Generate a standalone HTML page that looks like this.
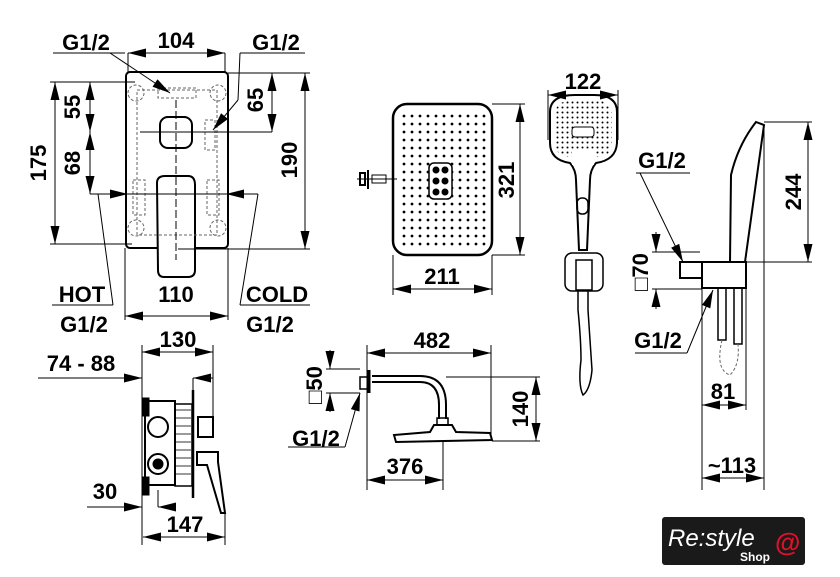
<!DOCTYPE html>
<html><head><meta charset="utf-8"><style>
body{margin:0;background:#fff;}
svg{display:block;}
text{font-family:"Liberation Sans",Arial,sans-serif;font-weight:bold;font-size:22px;fill:#000;}
</style></head><body>
<svg width="840" height="577" viewBox="0 0 840 577" xmlns="http://www.w3.org/2000/svg">
<defs>
<marker id="a" viewBox="0 0 20 10" refX="20" refY="5" markerWidth="20" markerHeight="9" markerUnits="userSpaceOnUse" orient="auto-start-reverse"><path d="M0,0 L20,5 L0,10 z" fill="#000"/></marker>
<pattern id="dots" width="8" height="8" patternUnits="userSpaceOnUse"><circle cx="4" cy="4" r="1.4" fill="#000"/></pattern>
<pattern id="dots2" width="5" height="5" patternUnits="userSpaceOnUse"><circle cx="2.5" cy="2.5" r="1" fill="#000"/></pattern>
</defs>
<g stroke="#000" stroke-width="1" fill="none">
<!-- MIXER FRONT -->
<rect x="126" y="72" width="102" height="176" rx="4" stroke-width="2"/>
<rect x="160" y="117" width="32" height="31" rx="8" stroke-width="2"/>
<path d="M157,183 Q157,176 165,176 L188,176 Q195,176 195,185 L195,270 Q195,277 188,277 L164,277 Q158,277 158,270 Z" fill="#fff" stroke-width="2"/>
<g stroke="#666" stroke-dasharray="3,2">
<rect x="137" y="90" width="80" height="145"/>
<rect x="158" y="88" width="38" height="10"/>
<rect x="205" y="120" width="10" height="30"/>
<rect x="133" y="180" width="12" height="35"/>
<rect x="207" y="180" width="12" height="35"/>
<circle cx="136" cy="93" r="8"/><circle cx="218" cy="93" r="8"/>
<circle cx="136" cy="228" r="8"/><circle cx="218" cy="228" r="8"/>
</g>
<line x1="176" y1="100" x2="176" y2="260" stroke-dasharray="8,3"/>
<line x1="140" y1="132" x2="272" y2="132"/>
<!-- dims -->
<line x1="53" y1="53" x2="125" y2="53"/><line x1="240" y1="53" x2="305" y2="53"/>
<line x1="128" y1="53" x2="225" y2="53" marker-start="url(#a)" marker-end="url(#a)"/>
<line x1="128" y1="53" x2="128" y2="72"/><line x1="225" y1="53" x2="225" y2="72"/>
<line x1="110" y1="53" x2="170" y2="93" marker-end="url(#a)"/>
<line x1="240" y1="53" x2="238" y2="100"/><line x1="238" y1="100" x2="213" y2="130" marker-end="url(#a)"/>
<line x1="50" y1="82" x2="135" y2="82"/><line x1="50" y1="244" x2="132" y2="244"/>
<line x1="55" y1="82" x2="55" y2="244" marker-start="url(#a)" marker-end="url(#a)"/>
<line x1="90" y1="82" x2="90" y2="132" marker-start="url(#a)" marker-end="url(#a)"/>
<line x1="90" y1="132" x2="90" y2="194" marker-start="url(#a)" marker-end="url(#a)"/>
<line x1="90" y1="194" x2="258" y2="194"/>
<line x1="98" y1="194" x2="128" y2="194" marker-end="url(#a)"/>
<line x1="248" y1="194" x2="226" y2="194" marker-end="url(#a)"/>
<line x1="228" y1="73" x2="310" y2="73"/><line x1="178" y1="249" x2="310" y2="249"/>
<line x1="272" y1="73" x2="272" y2="132" marker-start="url(#a)" marker-end="url(#a)"/>
<line x1="305" y1="73" x2="305" y2="249" marker-start="url(#a)" marker-end="url(#a)"/>
<line x1="98" y1="194" x2="113" y2="305"/><line x1="258" y1="194" x2="240" y2="305"/>
<line x1="52" y1="305" x2="113" y2="305"/><line x1="240" y1="305" x2="310" y2="305"/>
<line x1="125" y1="248" x2="125" y2="320"/><line x1="228" y1="248" x2="228" y2="320"/>
<line x1="125" y1="316" x2="228" y2="316" marker-start="url(#a)" marker-end="url(#a)"/>
<!-- BOX SIDE -->
<rect x="145" y="401" width="30" height="84" stroke-width="2"/>
<rect x="143" y="398" width="6" height="18" fill="#000"/>
<rect x="143" y="477" width="6" height="18" fill="#000"/>
<rect x="175" y="404" width="17" height="82" stroke-width="1.5"/>
<g stroke-width="0.8"><line x1="176" y1="410" x2="191" y2="410"/><line x1="176" y1="418" x2="191" y2="418"/><line x1="176" y1="426" x2="191" y2="426"/><line x1="176" y1="434" x2="191" y2="434"/><line x1="176" y1="442" x2="191" y2="442"/><line x1="176" y1="450" x2="191" y2="450"/><line x1="176" y1="458" x2="191" y2="458"/><line x1="176" y1="466" x2="191" y2="466"/><line x1="176" y1="474" x2="191" y2="474"/></g>
<circle cx="158" cy="427" r="10" stroke-width="2"/>
<circle cx="158" cy="464" r="10" stroke-width="2"/><circle cx="158" cy="464" r="5" fill="#000"/>
<line x1="193" y1="390" x2="193" y2="498" stroke-width="2.5"/>
<rect x="198" y="417" width="15" height="20" stroke-width="2"/>
<path d="M197,452 L218,452 L218,462 L225,513 L221,513 L207,465 L197,465 Z" stroke-width="2"/>
<line x1="142" y1="352" x2="213" y2="352" marker-start="url(#a)" marker-end="url(#a)"/>
<line x1="142" y1="345" x2="142" y2="545"/><line x1="213" y1="345" x2="213" y2="417"/>
<line x1="38" y1="378" x2="142" y2="378" marker-end="url(#a)"/>
<line x1="213" y1="378" x2="193" y2="378" marker-end="url(#a)"/><line x1="193" y1="378" x2="193" y2="390"/>
<line x1="87" y1="507" x2="142" y2="507" marker-end="url(#a)"/>
<line x1="176" y1="507" x2="158" y2="507" marker-end="url(#a)"/><line x1="158" y1="490" x2="158" y2="507"/>
<line x1="225" y1="513" x2="225" y2="545"/>
<line x1="143" y1="537" x2="225" y2="537" marker-start="url(#a)" marker-end="url(#a)"/>
<!-- RAIN TOP -->
<rect x="393" y="104" width="99" height="151" rx="14" stroke-width="2.5"/>
<rect x="399" y="110" width="87" height="139" rx="8" fill="url(#dots)" stroke="none"/>
<rect x="429" y="163" width="23" height="36" rx="5" fill="#fff" stroke-width="1.5"/>
<circle cx="436" cy="170" r="3" fill="#000"/><circle cx="445" cy="170" r="3" fill="#000"/>
<circle cx="436" cy="181" r="3" fill="#000"/><circle cx="445" cy="181" r="3" fill="#000"/>
<circle cx="436" cy="192" r="3" fill="#000"/><circle cx="445" cy="192" r="3" fill="#000"/>
<line x1="357" y1="179" x2="397" y2="179"/><rect x="360" y="173" width="5" height="12" stroke-width="2"/>
<line x1="368" y1="170" x2="368" y2="189" stroke-width="2"/><rect x="372" y="175" width="14" height="8"/>
<line x1="492" y1="104" x2="525" y2="104"/><line x1="492" y1="255" x2="525" y2="255"/>
<line x1="520" y1="104" x2="520" y2="255" marker-start="url(#a)" marker-end="url(#a)"/>
<line x1="393" y1="255" x2="393" y2="295"/><line x1="492" y1="255" x2="492" y2="295"/>
<line x1="393" y1="289" x2="492" y2="289" marker-start="url(#a)" marker-end="url(#a)"/>
<!-- OVERHEAD -->
<rect x="360" y="377" width="8" height="12" stroke-width="1.5"/>
<line x1="369" y1="370" x2="369" y2="393" stroke-width="3"/>
<path d="M372,376 L420,376 Q446,376 446,405 L446,419" stroke-width="2"/>
<path d="M372,382 L420,382 Q439,382 439,405 L439,419" stroke-width="2"/>
<rect x="437" y="418" width="11" height="7" stroke-width="1.5"/>
<path d="M434,425 L452,425 L456,432 L490,433 L492,440 L396,442 L394,435 L430,432 Z" stroke-width="2"/>
<line x1="367" y1="345" x2="367" y2="490"/><line x1="491" y1="345" x2="491" y2="440"/>
<line x1="367" y1="353" x2="491" y2="353" marker-start="url(#a)" marker-end="url(#a)"/>
<line x1="446" y1="377" x2="540" y2="377"/><line x1="492" y1="441" x2="540" y2="441"/>
<line x1="536" y1="377" x2="536" y2="441" marker-start="url(#a)" marker-end="url(#a)"/>
<line x1="443" y1="442" x2="443" y2="490"/>
<line x1="367" y1="480" x2="443" y2="480" marker-start="url(#a)" marker-end="url(#a)"/>
<line x1="326" y1="369" x2="360" y2="369"/><line x1="326" y1="393" x2="360" y2="393"/>
<line x1="330" y1="350" x2="330" y2="369" marker-end="url(#a)"/>
<line x1="330" y1="412" x2="330" y2="393" marker-end="url(#a)"/>
<line x1="288" y1="447" x2="345" y2="447"/><line x1="345" y1="447" x2="360" y2="393" marker-end="url(#a)"/>
<!-- HAND SHOWER -->
<line x1="548" y1="90" x2="548" y2="140"/><line x1="618" y1="90" x2="618" y2="140"/>
<line x1="548" y1="95" x2="618" y2="95" marker-start="url(#a)" marker-end="url(#a)"/>
<path d="M550,112 Q550,95 575,95 L594,95 Q617,95 617,112 L617,143 Q616,160 596,163 Q590,170 590,180 L587,250 L579,250 L576,180 Q576,170 570,163 Q550,160 550,143 Z" stroke-width="2"/>
<rect x="555" y="101" width="57" height="56" rx="13" fill="url(#dots2)" stroke="none"/>
<rect x="572" y="150" width="22" height="15" fill="#fff" stroke="none"/>
<rect x="572" y="127" width="22" height="10" rx="3" fill="#fff" stroke="#000"/>
<rect x="577" y="198" width="11" height="16" rx="5" stroke-width="1.5"/>
<rect x="565" y="253" width="38" height="38" rx="7" stroke-width="1.5"/>
<rect x="576" y="260" width="16" height="30" stroke-width="1.5"/>
<path d="M578,290 L578,310 Q581,340 581,360 Q578,385 583,395 Q590,390 592,370 Q590,340 588,310 L588,290" stroke-width="1.5"/>
<!-- WALL OUTLET -->
<path d="M756,122 L764,125 L745,262 L730,262 L731,175 Q738,145 756,122 Z" stroke-width="2"/>
<rect x="680" y="262" width="22" height="16" stroke-width="2"/>
<rect x="702" y="262" width="44" height="26" stroke-width="2"/>
<rect x="718" y="288" width="8" height="52" stroke-width="1.5"/>
<rect x="734" y="288" width="8" height="56" stroke-width="1.5"/>
<path d="M722,340 Q715,370 730,375 Q740,365 738,344" stroke-dasharray="3,2" stroke="#666"/>
<line x1="764" y1="122" x2="812" y2="122"/><line x1="746" y1="262" x2="812" y2="262"/>
<line x1="808" y1="122" x2="808" y2="262" marker-start="url(#a)" marker-end="url(#a)"/>
<line x1="636" y1="173" x2="690" y2="173"/><line x1="640" y1="173" x2="683" y2="262" marker-end="url(#a)"/>
<line x1="652" y1="252" x2="700" y2="252"/><line x1="652" y1="289" x2="702" y2="289"/>
<line x1="656" y1="232" x2="656" y2="252" marker-end="url(#a)"/>
<line x1="656" y1="309" x2="656" y2="289" marker-end="url(#a)"/>
<line x1="635" y1="353" x2="687" y2="353"/><line x1="687" y1="353" x2="713" y2="290" marker-end="url(#a)"/>
<line x1="702" y1="288" x2="702" y2="490"/><line x1="746" y1="288" x2="746" y2="410"/>
<line x1="764" y1="125" x2="764" y2="490"/>
<line x1="702" y1="405" x2="746" y2="405" marker-start="url(#a)" marker-end="url(#a)"/>
<line x1="702" y1="478" x2="764" y2="478" marker-start="url(#a)" marker-end="url(#a)"/>
</g>
<!-- TEXT -->
<text x="176" y="48" text-anchor="middle">104</text>
<text x="86" y="50" text-anchor="middle">G1/2</text>
<text x="276" y="50" text-anchor="middle">G1/2</text>
<text transform="translate(46,163) rotate(-90)" text-anchor="middle">175</text>
<text transform="translate(80,107) rotate(-90)" text-anchor="middle">55</text>
<text transform="translate(80,163) rotate(-90)" text-anchor="middle">68</text>
<text transform="translate(263,100) rotate(-90)" text-anchor="middle">65</text>
<text transform="translate(297,160) rotate(-90)" text-anchor="middle">190</text>
<text x="82" y="302" text-anchor="middle">HOT</text>
<text x="176" y="302" text-anchor="middle">110</text>
<text x="277" y="302" text-anchor="middle">COLD</text>
<text x="84" y="332" text-anchor="middle">G1/2</text>
<text x="270" y="332" text-anchor="middle">G1/2</text>
<text x="178" y="347" text-anchor="middle">130</text>
<text x="81" y="371" text-anchor="middle">74 - 88</text>
<text x="105" y="499" text-anchor="middle">30</text>
<text x="185" y="532" text-anchor="middle">147</text>
<text x="442" y="284" text-anchor="middle">211</text>
<text transform="translate(514,180) rotate(-90)" text-anchor="middle">321</text>
<text x="583" y="89" text-anchor="middle">122</text>
<text x="432" y="348" text-anchor="middle">482</text>
<text transform="translate(528,409) rotate(-90)" text-anchor="middle">140</text>
<text transform="translate(322,385) rotate(-90)" text-anchor="middle">□50</text>
<text x="316" y="446" text-anchor="middle">G1/2</text>
<text x="405" y="474" text-anchor="middle">376</text>
<text x="662" y="168" text-anchor="middle">G1/2</text>
<text transform="translate(648,272) rotate(-90)" text-anchor="middle">□70</text>
<text x="658" y="348" text-anchor="middle">G1/2</text>
<text x="723" y="399" text-anchor="middle">81</text>
<text x="732" y="473" text-anchor="middle">~113</text>
<text transform="translate(801,192) rotate(-90)" text-anchor="middle">244</text>
<!-- LOGO -->
<rect x="662" y="517" width="143" height="48" rx="3" fill="#1a1a1a"/>
<text x="668" y="546" style="font-size:24px;font-style:italic;fill:#fff;font-weight:normal;">Re:style</text>
<text x="740" y="561" style="font-size:12px;fill:#fff;">Shop</text>
<text x="775" y="551" style="font-size:26px;fill:#e0102a;">@</text>
</svg>
</body></html>
